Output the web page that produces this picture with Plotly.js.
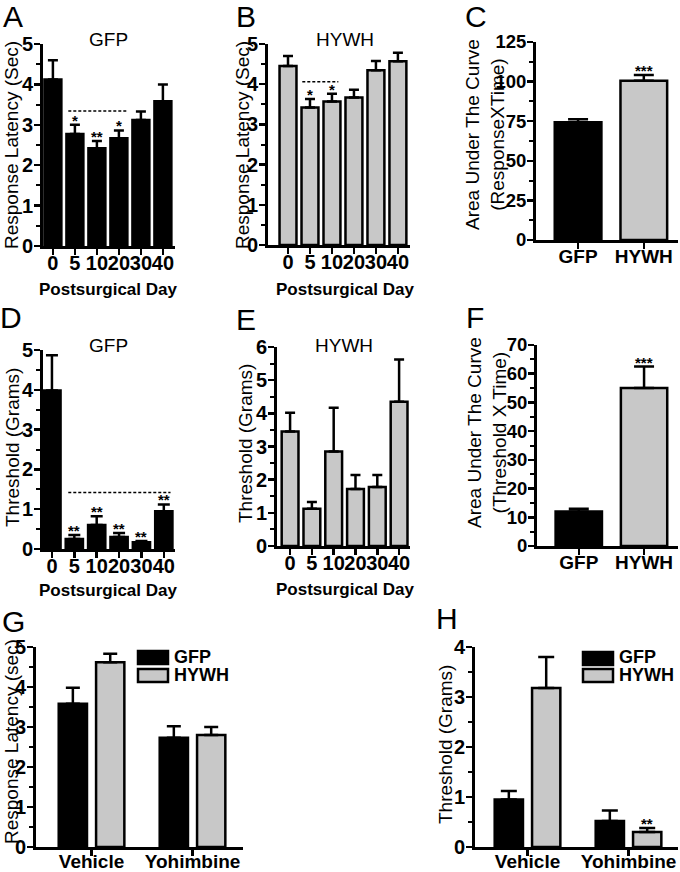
<!DOCTYPE html>
<html><head><meta charset="utf-8">
<script src="https://cdn.plot.ly/plotly-3.0.1.min.js"></script>
<style>html,body{margin:0;padding:0;background:#fff}#chart{width:680px;height:872px}</style>
</head><body><div id="chart"></div>
<script>
// ---------------- data ----------------
const days = ['0', '5', '10', '20', '30', '40'];
const latencyGFP = [4.12, 2.77, 2.42, 2.67, 3.12, 3.58];
const latencyGFPErr = [0.48, 0.23, 0.18, 0.19, 0.21, 0.42];
const latencyGFPSig = ['', '*', '**', '*', '', ''];
const latencyHYWH = [4.45, 3.42, 3.57, 3.67, 4.35, 4.57];
const latencyHYWHErr = [0.25, 0.21, 0.19, 0.19, 0.23, 0.21];
const latencyHYWHSig = ['', '*', '*', '', '', ''];
const groups = ['GFP', 'HYWH'];
const aucLatency = [74.3, 100.6];
const aucLatencyErr = [1.9, 3.6];
const aucLatencySig = ['', '***'];
const thresholdGFP = [3.98, 0.25, 0.60, 0.30, 0.17, 0.95];
const thresholdGFPErr = [0.89, 0.10, 0.22, 0.10, 0.03, 0.17];
const thresholdGFPSig = ['', '**', '**', '**', '**', '**'];
const thresholdHYWH = [3.45, 1.12, 2.85, 1.72, 1.78, 4.35];
const thresholdHYWHErr = [0.57, 0.21, 1.32, 0.42, 0.36, 1.27];
const aucThreshold = [12.0, 55.0];
const aucThresholdErr = [1.0, 7.5];
const aucThresholdSig = ['', '***'];
const treatments = ['Vehicle', 'Yohimbine'];
const drugLatencyGFP = [3.58, 2.73];
const drugLatencyGFPErr = [0.40, 0.29];
const drugLatencyHYWH = [4.62, 2.80];
const drugLatencyHYWHErr = [0.21, 0.20];
const drugThresholdGFP = [0.95, 0.52];
const drugThresholdGFPErr = [0.17, 0.21];
const drugThresholdHYWH = [3.18, 0.30];
const drugThresholdHYWHErr = [0.62, 0.08];
const drugThresholdHYWHSig = ['', '**'];

// ---------------- helpers ----------------
const W = 680, H = 872;
const F = 'Liberation Sans, Arial, sans-serif';
const BLACK = '#000000', GRAY = '#c8c8c8';
const px = v => v / W;
const py = v => 1 - v / H;
const dx = (a, b) => [px(a), px(b)];
const dy = (top, bottom) => [py(bottom), py(top)];

function xaxis(dom, range, anchor, size, cats, standoff) {
  return {domain: dom, range: range, type: 'category', anchor: anchor,
    tickmode: 'array', tickvals: cats, ticktext: cats,
    showline: true, linewidth: 3, linecolor: BLACK, ticks: 'outside', ticklen: 6,
    tickwidth: 2.5, tickcolor: BLACK, tickangle: 0, ticklabelstandoff: standoff,
    showgrid: false, zeroline: false, fixedrange: true,
    tickfont: {family: F, size: size, color: BLACK, weight: 'bold'}};
}
function yaxis(dom, range, anchor, dtick, minor, size) {
  return {domain: dom, range: range, anchor: anchor, showline: true, linewidth: 3,
    linecolor: BLACK, ticks: 'outside', ticklen: 6, tickwidth: 2.5, tickcolor: BLACK,
    dtick: dtick, tick0: 0, showgrid: false, zeroline: false, fixedrange: true,
    ticklabelstandoff: -3,
    minor: {ticks: 'outside', ticklen: 4, tickwidth: 2, tickcolor: BLACK, dtick: minor, showgrid: false},
    tickfont: {family: F, size: size, color: BLACK, weight: 'bold'}};
}
function bars(x, y, err, color, xa, ya, w, capw, offset) {
  const t = {type: 'bar', x: x, y: y, xaxis: xa, yaxis: ya, width: w,
    marker: {color: color, line: {color: BLACK, width: 2.5}},
    error_y: {type: 'data', array: err, arrayminus: err.map(() => 0), symmetric: false,
      color: BLACK, thickness: 2.5, width: capw},
    showlegend: false, hoverinfo: 'skip'};
  if (offset !== undefined) t.offset = offset;
  return t;
}
function sigs(y, err, sig, xa, ya, shift) {
  const out = [];
  sig.forEach((s, i) => {
    if (!s) return;
    out.push({x: i + (shift || 0), y: y[i] + err[i], xref: xa, yref: ya, text: s,
      showarrow: false, yanchor: 'bottom', yshift: -6,
      font: {family: F, size: 15, color: BLACK, weight: 'bold'}});
  });
  return out;
}
function label(text, x, y, size, weight, anchor, extra) {
  return Object.assign({x: px(x), y: py(y), xref: 'paper', yref: 'paper', text: text, showarrow: false,
    xanchor: anchor || 'center', yanchor: 'middle',
    font: {family: F, size: size, color: BLACK, weight: weight || 'normal'}}, extra || {});
}
function ytitle(text, x, y) {
  return label(text, x, y, 19, 'normal', 'center', {textangle: -90});
}
function dashed(x0, x1, y, xa, ya) {
  return {type: 'line', xref: xa, yref: ya, x0: x0, x1: x1, y0: y, y1: y,
    line: {color: BLACK, width: 1.5, dash: '3px,2px'}};
}
function box(x0, x1, y0, y1, color) {
  return {type: 'rect', xref: 'paper', yref: 'paper', x0: px(x0), x1: px(x1), y0: py(y1), y1: py(y0),
    fillcolor: color, line: {color: BLACK, width: 2.5}};
}

const BW = 0.77, BW2 = 0.71, GW = 0.28, GO = 0.185;
const LEG = {height: 16, borderpad: 0};

const data = [
  bars(days, latencyGFP, latencyGFPErr, BLACK, 'x', 'y', BW, 5),
  bars(days, latencyHYWH, latencyHYWHErr, GRAY, 'x2', 'y2', BW, 5),
  bars(groups, aucLatency, aucLatencyErr, [BLACK, GRAY], 'x3', 'y3', BW2, 10),
  bars(days, thresholdGFP, thresholdGFPErr, BLACK, 'x4', 'y4', BW, 6),
  bars(days, thresholdHYWH, thresholdHYWHErr, GRAY, 'x5', 'y5', BW, 5),
  bars(groups, aucThreshold, aucThresholdErr, [BLACK, GRAY], 'x6', 'y6', BW2, 10),
  bars(treatments, drugLatencyGFP, drugLatencyGFPErr, BLACK, 'x7', 'y7', GW, 7, -GO - GW / 2),
  bars(treatments, drugLatencyHYWH, drugLatencyHYWHErr, GRAY, 'x7', 'y7', GW, 7, GO - GW / 2),
  bars(treatments, drugThresholdGFP, drugThresholdGFPErr, BLACK, 'x8', 'y8', GW, 8, -GO - GW / 2),
  bars(treatments, drugThresholdHYWH, drugThresholdHYWHErr, GRAY, 'x8', 'y8', GW, 8, GO - GW / 2)
];
data[6].name = 'GFP'; data[7].name = 'HYWH'; data[8].name = 'GFP'; data[9].name = 'HYWH';

const layout = {
  width: W, height: H, margin: {l: 0, r: 0, t: 0, b: 0},
  paper_bgcolor: '#ffffff', plot_bgcolor: 'rgba(0,0,0,0)', showlegend: false,
  xaxis:  xaxis(dx(43, 175), [-0.45, 5.55], 'y', 20, days, -9),
  yaxis:  yaxis(dy(44, 246), [0, 5], 'x', 1, 0.5, 20),
  xaxis2: xaxis(dx(268, 410), [-0.91, 5.55], 'y2', 20, days, -9),
  yaxis2: yaxis(dy(44, 245), [0, 5], 'x2', 1, 0.5, 20),
  xaxis3: xaxis(dx(536, 678), [-0.64, 1.52], 'y3', 19, groups, -9),
  yaxis3: yaxis(dy(42, 240), [0, 125], 'x3', 25, 12.5, 18.5),
  xaxis4: xaxis(dx(43, 175), [-0.4, 5.5], 'y4', 20, days, -9),
  yaxis4: yaxis(dy(350, 549), [0, 5], 'x4', 1, 0.5, 20),
  xaxis5: xaxis(dx(277, 410), [-0.6, 5.5], 'y5', 20, days, -9),
  yaxis5: yaxis(dy(347, 546), [0, 6], 'x5', 1, 0.5, 20),
  xaxis6: xaxis(dx(537, 678), [-0.64, 1.52], 'y6', 19, groups, -9),
  yaxis6: yaxis(dy(345, 546), [0, 70], 'x6', 10, 5, 18.5),
  xaxis7: xaxis(dx(36, 243), [-0.55, 1.5], 'y7', 19, treatments, -11),
  yaxis7: yaxis(dy(647, 847), [0, 5], 'x7', 1, 0.5, 20),
  xaxis8: xaxis(dx(475, 678), [-0.52, 1.49], 'y8', 19, treatments, -11),
  yaxis8: yaxis(dy(647, 847), [0, 4], 'x8', 1, 0.5, 20),
  shapes: [
    dashed(0.7, 3.42, 3.34, 'x', 'y'),
    dashed(0.65, 2.29, 4.06, 'x2', 'y2'),
    dashed(0.73, 5.3, 1.42, 'x4', 'y4'),
    box(138, 168, 651, 664, BLACK), box(138, 168, 669, 682, GRAY),
    box(583, 613, 652, 665, BLACK), box(583, 613, 669, 682, GRAY)
  ],
  annotations: [].concat(
    sigs(latencyGFP, latencyGFPErr, latencyGFPSig, 'x', 'y'),
    sigs(latencyHYWH, latencyHYWHErr, latencyHYWHSig, 'x2', 'y2'),
    sigs(aucLatency, aucLatencyErr, aucLatencySig, 'x3', 'y3'),
    sigs(thresholdGFP, thresholdGFPErr, thresholdGFPSig, 'x4', 'y4'),
    sigs(aucThreshold, aucThresholdErr, aucThresholdSig, 'x6', 'y6'),
    sigs(drugThresholdHYWH, drugThresholdHYWHErr, drugThresholdHYWHSig, 'x8', 'y8', GO),
    [
      label('A', 12.5, 16, 30), label('B', 246, 17, 30), label('C', 476, 16, 30),
      label('D', 11, 317, 30), label('E', 246, 319, 30), label('F', 475, 317, 30),
      label('G', 13.5, 621, 30), label('H', 447, 618, 30),
      label('GFP', 108, 40, 19), label('HYWH', 345, 40, 19),
      label('GFP', 108, 345, 19), label('HYWH', 344, 345, 19),
      label('GFP', 173, 657, 18, 'bold', 'left', LEG),
      label('HYWH', 173, 675, 18, 'bold', 'left', LEG),
      label('GFP', 618, 657, 18, 'bold', 'left', LEG),
      label('HYWH', 618, 675, 18, 'bold', 'left', LEG),
      label('Postsurgical Day', 108, 289, 17, 'bold'),
      label('Postsurgical Day', 345, 289, 17, 'bold'),
      label('Postsurgical Day', 108, 590, 17, 'bold'),
      label('Postsurgical Day', 345, 589, 17, 'bold'),
      ytitle('Response Latency (Sec)', 12, 145),
      ytitle('Response Latency (Sec)', 243, 145),
      ytitle('Area Under The Curve<br>(ResponseXTime)', 485, 135),
      ytitle('Threshold (Grams)', 12, 448),
      ytitle('Threshold (Grams)', 246, 444),
      ytitle('Area Under The Curve<br>(Threshold X Time)', 487, 433),
      ytitle('Response Latency (sec)', 11, 742),
      ytitle('Threshold (Grams)', 445, 745)
    ]
  )
};

Plotly.newPlot('chart', data, layout, {staticPlot: true, displayModeBar: false});
</script>
</body></html>
